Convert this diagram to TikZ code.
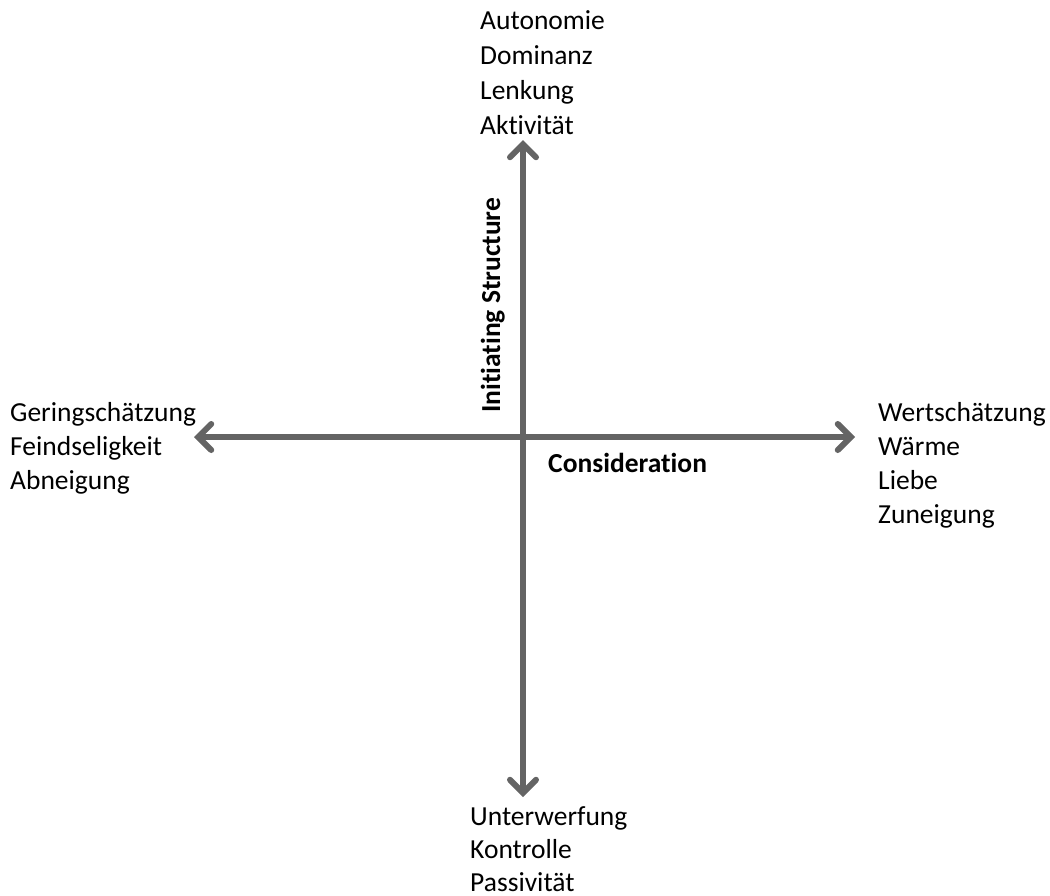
\documentclass[tikz,border=0pt]{standalone}
\usepackage{fontspec}
\setmainfont{Carlito}[Ligatures=NoCommon]
\usetikzlibrary{arrows.meta}
\definecolor{axisgray}{HTML}{646464}
\begin{document}
\begin{tikzpicture}[x=1pt,y=-1pt,
  lbl/.style={anchor=base west,inner sep=0pt,font=\fontsize{27.5}{33}\selectfont,text=black},
  axislbl/.style={inner sep=0pt,font=\fontsize{27.5}{33}\selectfont\bfseries,text=black},
  axis/.style={draw=axisgray,line width=6pt,-{Straight Barb[length=13pt,width=26pt,line cap=round]}}]
\useasboundingbox (0,0) rectangle (1050,895);
\coordinate (c) at (523,437);
\coordinate (top) at (523,140);
\coordinate (bot) at (523,797);
\coordinate (lft) at (194,437);
\coordinate (rgt) at (855,437);
\draw[axis] (c) -- (top);
\draw[axis] (c) -- (bot);
\draw[axis] (c) -- (lft);
\draw[axis] (c) -- (rgt);
% top
\node[lbl] (t1) at (480,29) {Autonomie};
\node[lbl] (t2) at (480,64) {Dominanz};
\node[lbl] (t3) at (480,99) {Lenkung};
\node[lbl] (t4) at (480,134) {Aktivität};
% left
\node[lbl] (l1) at (10,421) {Geringschätzung};
\node[lbl] (l2) at (10,455) {Feindseligkeit};
\node[lbl] (l3) at (10,489) {Abneigung};
% right
\node[lbl] (r1) at (878,421) {Wertschätzung};
\node[lbl] (r2) at (878,455) {Wärme};
\node[lbl] (r3) at (878,489) {Liebe};
\node[lbl] (r4) at (878,523) {Zuneigung};
% bottom
\node[lbl] (b1) at (470,825) {Unterwerfung};
\node[lbl] (b2) at (470,858) {Kontrolle};
\node[lbl] (b3) at (470,891) {Passivität};
% axis labels
\node[axislbl,anchor=base west] (cons) at (548,472) {Consideration};
\node[axislbl,anchor=base west,rotate=90] (init) at (500,413) {Initiating Structure};
\end{tikzpicture}
\end{document}
